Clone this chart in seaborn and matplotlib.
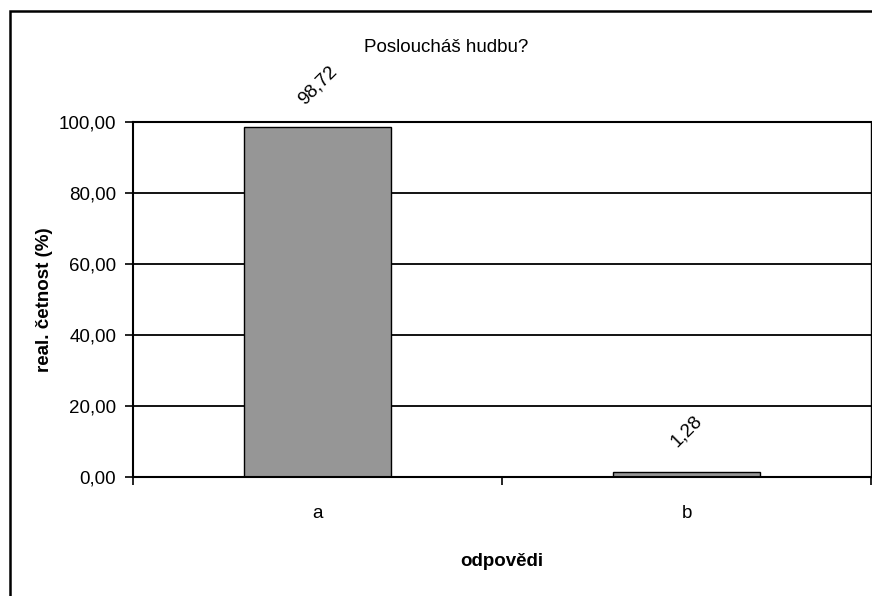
import matplotlib
matplotlib.use("Agg")
import matplotlib.pyplot as plt
import seaborn as sns
import pandas as pd
from matplotlib.patches import Rectangle
from matplotlib.ticker import FuncFormatter, FixedLocator

categories = ["a", "b"]
values = [98.72, 1.28]
value_labels = ["98,72", "1,28"]
yticks = [0, 20, 40, 60, 80, 100]

title = "Posloucháš hudbu?"
xlabel = "odpovědi"
ylabel = "real. četnost (%)"

sns.set_theme(style="white")
plt.rcParams["font.family"] = ["Liberation Sans", "DejaVu Sans"]
plt.rcParams["text.color"] = "black"
plt.rcParams["axes.labelcolor"] = "black"
plt.rcParams["xtick.color"] = "black"
plt.rcParams["ytick.color"] = "black"

FS = 13.5

df = pd.DataFrame({"cat": categories, "val": values})

fig = plt.figure(figsize=(8.72, 5.96), dpi=100)
ax = fig.add_axes([133/872, 1-477/596, (871-133)/872, (477-122)/596])

sns.barplot(data=df, x="cat", y="val", ax=ax, width=0.4, color="#969696",
            edgecolor="black", linewidth=1.0, saturation=1)

ax.set_ylim(0, 100)
ax.set_xlim(-0.5, 1.5)
ax.yaxis.set_major_locator(FixedLocator(yticks))
ax.yaxis.set_major_formatter(FuncFormatter(lambda v, p: f"{v:.2f}".replace(".", ",")))
for y in yticks[1:]:
    ax.axhline(y, color="black", lw=1.3, zorder=0)

for sp in ["left", "bottom", "right", "top"]:
    ax.spines[sp].set_visible(True)
    ax.spines[sp].set_color("black")
    ax.spines[sp].set_linewidth(1.5)
ax.spines["right"].set_linewidth(1.0)

ax.tick_params(axis="y", which="major", direction="out", length=6, width=1.2,
               color="black", labelcolor="black", labelsize=FS, pad=6, left=True)
ax.tick_params(axis="x", which="major", length=0, labelsize=FS, labelcolor="black", pad=20.5)
ax.set_xticks([-0.5, 0.5, 1.5], minor=True)
ax.tick_params(axis="x", which="minor", direction="out", length=6, width=1.2,
               color="black", bottom=True)

ax.set_xlabel(xlabel, fontsize=FS, fontweight="bold", labelpad=22, color="black")
ax.set_ylabel(ylabel, fontsize=FS, fontweight="bold", labelpad=4, color="black")

for i, (v, lab) in enumerate(zip(values, value_labels)):
    ax.annotate(lab, xy=(i, v), xytext=(0, 29.5), textcoords="offset points",
                ha="center", va="center", rotation=45, fontsize=FS, color="black")

fig.text(446/872, 1-48/596, title, ha="center", va="center", fontsize=FS, color="black")

fig.add_artist(Rectangle((10/872, -0.1), 1.0, 1.1 - 11/596, transform=fig.transFigure,
                         fill=False, edgecolor="black", lw=1.8))

fig.savefig("out.png", dpi=100)
